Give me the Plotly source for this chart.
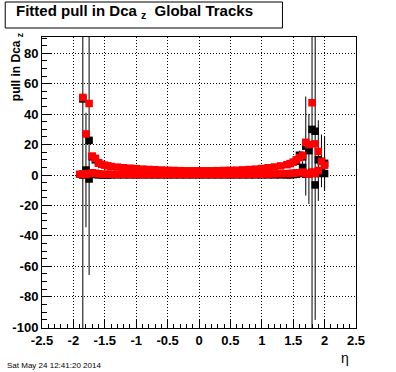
import plotly.graph_objects as go

# ---- data ----
eta = [-1.90, -1.85, -1.80, -1.75, -1.70, -1.65, -1.60, -1.55, -1.50, -1.45,
       -1.4, -1.3, -1.2, -1.1, -1.0, -0.9, -0.8, -0.7, -0.6, -0.5,
       -0.4, -0.3, -0.2, -0.1, 0.0, 0.1, 0.2, 0.3, 0.4, 0.5,
       0.6, 0.7, 0.8, 0.9, 1.0, 1.1, 1.2, 1.3, 1.4,
       1.45, 1.50, 1.55, 1.60, 1.65, 1.70, 1.75, 1.80, 1.85, 1.90, 1.95, 2.00]

red_lower = [0.5, 0.8, 0.3, 1.0, 1.5, 1.2, 0.8, 0.6, 0.5, 0.5,
             0.5, 0.4, 0.4, 0.4, 0.3, 0.3, 0.3, 0.3, 0.3, 0.3,
             0.3, 0.3, 0.3, 0.3, 0.3, 0.3, 0.3, 0.3, 0.3, 0.3,
             0.4, 0.4, 0.4, 0.5, 0.5, 0.6, 0.7, 0.8, 0.9,
             1.0, 1.2, 1.5, 1.5, 2.0, 1.0, 0.5, 2.0, 1.0, 3.0, None, None]

red_upper = [None, 51.0, 27.0, 47.0, 12.5, 11.0, 8.0, 7.0, 6.5, 6.0,
             5.6, 5.2, 4.8, 4.5, 4.2, 3.9, 3.7, 3.5, 3.3, 3.1,
             3.0, 2.9, 2.8, 2.8, 2.8, 2.8, 2.8, 2.9, 3.0, 3.1,
             3.2, 3.4, 3.6, 3.9, 4.3, 4.8, 5.3, 6.0, 6.8,
             7.5, 8.5, 10.0, 11.5, 13.0, 21.5, 20.0, 47.5, 20.5, 15.5, 9.0, 6.5]

black_lower = [None, 0.0, 3.3, -2.6, 0.5, 0.3, 0.2, 0.1, 0.1, 0.1,
               0.1, 0.1, 0.1, 0.1, 0.1, 0.1, 0.1, 0.1, 0.1, 0.1,
               0.1, 0.1, 0.1, 0.1, 0.1, 0.1, 0.1, 0.1, 0.1, 0.1,
               0.1, 0.1, 0.1, 0.1, 0.1, 0.1, 0.1, 0.1, 0.1,
               0.2, 0.3, 0.5, 1.0, 5.0, 0.5, 1.0, 1.5, -6.5, 1.0, 2.0, 1.0]
black_lower_err = [0, 1.0, 37.7, 2.0, 1.0, 0.8, 0.6, 0.5, 0.5, 0.5,
                   0.4, 0.4, 0.4, 0.4, 0.4, 0.4, 0.4, 0.4, 0.4, 0.4,
                   0.4, 0.4, 0.4, 0.4, 0.4, 0.4, 0.4, 0.4, 0.4, 0.4,
                   0.4, 0.4, 0.4, 0.4, 0.4, 0.4, 0.4, 0.4, 0.4,
                   0.5, 0.6, 0.8, 1.5, 4.0, 2.0, 2.0, 3.0, 2.0, 2.0, 2.0, 2.0]

black_upper_eta = [-1.85, -1.75, -1.70, -1.65, -1.60, 1.55, 1.60, 1.65,
                   1.70, 1.75, 1.80, 1.85, 1.90, 1.95, 2.00]
black_upper = [50.0, 22.8, 12.0, 10.0, 8.0, 9.0, 13.0, 12.0,
               19.0, 16.0, 30.0, 28.8, 10.0, 9.0, 7.7]
black_upper_err_plus = [300, 90, 2, 2, 2, 2, 3, 3, 32.6, 24, 300, 200, 26, 17.6, 18]
black_upper_err_minus = [300, 88.5, 2, 2, 2, 2, 3, 3, 32.5, 35, 300, 124, 27, 17, 18]

x_tick_vals = [-2.5, -2, -1.5, -1, -0.5, 0, 0.5, 1, 1.5, 2, 2.5]
x_tick_text = ["-2.5", "-2", "-1.5", "-1", "-0.5", "0", "0.5", "1", "1.5", "2", "2.5"]
y_tick_vals = [-100, -80, -60, -40, -20, 0, 20, 40, 60, 80]
y_tick_text = ["-100", "-80", "-60", "-40", "-20", "0", "20", "40", "60", "80"]

title_text = "Fitted pull in Dca <sub>z</sub>  Global Tracks"
y_title = "pull in Dca <sub>z</sub>"
x_title = "η"
date_text = "Sat May 24 12:41:20 2014"

FONT = "Liberation Sans, Arial, Helvetica, sans-serif"
MS = 7.5

fig = go.Figure()

fig.add_trace(go.Scatter(
    x=eta, y=black_lower, mode="markers",
    marker=dict(symbol="square", size=MS, color="black", line=dict(width=0)),
    error_y=dict(type="data", array=black_lower_err, color="black", thickness=1, width=0),
    showlegend=False))

fig.add_trace(go.Scatter(
    x=black_upper_eta, y=black_upper, mode="markers",
    marker=dict(symbol="square", size=MS, color="black", line=dict(width=0)),
    error_y=dict(type="data", symmetric=False, array=black_upper_err_plus,
                 arrayminus=black_upper_err_minus, color="black", thickness=1, width=0),
    showlegend=False))

fig.add_trace(go.Scatter(
    x=eta, y=red_lower, mode="markers",
    marker=dict(symbol="square", size=MS, color="red", line=dict(width=0)),
    showlegend=False))

fig.add_trace(go.Scatter(
    x=eta, y=red_upper, mode="markers",
    marker=dict(symbol="square", size=MS, color="red", line=dict(width=0)),
    showlegend=False))

axis_common = dict(
    showline=True, linecolor="black", linewidth=1, mirror=True,
    ticks="inside", tickcolor="black", tickwidth=1,
    showgrid=True, gridcolor="black", gridwidth=1, griddash="1px,2px",
    zeroline=False,
    tickfont=dict(family=FONT, size=13, color="black", weight="bold"),
)

fig.update_xaxes(
    range=[-2.5, 2.5], tickmode="array", tickvals=x_tick_vals, ticktext=x_tick_text,
    ticklen=9,
    minor=dict(tickmode="linear", tick0=0, dtick=0.1, ticks="inside", ticklen=4.5,
               tickcolor="black", showgrid=False),
    **axis_common)

fig.update_yaxes(
    range=[-100.5, 90.7], tickmode="array", tickvals=y_tick_vals, ticktext=y_tick_text,
    ticklen=9,
    minor=dict(tickmode="linear", tick0=0, dtick=5, ticks="inside", ticklen=4.5,
               tickcolor="black", showgrid=False),
    **axis_common)

L, R, T, B = 40, 40, 37, 44
W, H = 396, 372
PW, PH = W - L - R, H - T - B


def px(xp):
    return (xp - L) / PW


def py(yp):
    return (H - B - yp) / PH


fig.add_shape(type="rect", xref="paper", yref="paper",
              x0=px(3), x1=px(282), y0=py(28), y1=py(2),
              line=dict(color="black", width=1), fillcolor="white", layer="above")

fig.add_annotation(text=title_text, xref="paper", yref="paper",
                   x=px(12), y=py(11), xanchor="left", yanchor="middle",
                   showarrow=False,
                   font=dict(family=FONT, size=15, color="black", weight="bold"))

fig.add_annotation(text=y_title, xref="paper", yref="paper",
                   x=px(15), y=py(31), xanchor="center", yanchor="top",
                   textangle=-90, showarrow=False,
                   font=dict(family=FONT, size=12, color="black", weight="bold"))

fig.add_annotation(text=x_title, xref="paper", yref="paper",
                   x=px(351), y=py(358), xanchor="right", yanchor="middle",
                   showarrow=False,
                   font=dict(family=FONT, size=14, color="black"))

fig.add_annotation(text=date_text, xref="paper", yref="paper",
                   x=px(3), y=py(365), xanchor="left", yanchor="middle",
                   showarrow=False,
                   font=dict(family=FONT, size=8, color="black"))

fig.update_layout(
    width=W, height=H,
    margin=dict(l=L, r=R, t=T, b=B),
    paper_bgcolor="white", plot_bgcolor="white",
    showlegend=False,
)

fig.write_html("out.html", config={"displayModeBar": False},
               post_script="document.body.style.margin='0';document.body.style.overflow='hidden';")
